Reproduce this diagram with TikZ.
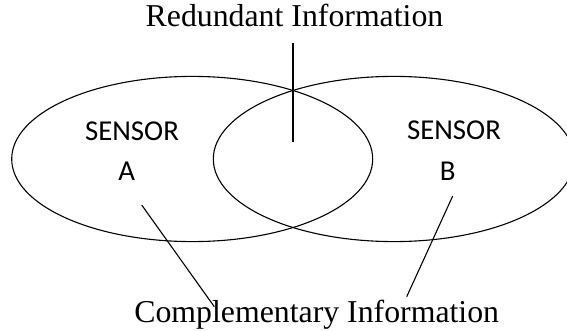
\documentclass[tikz,border=0pt]{standalone}
\usepackage{fontspec}
\setmainfont{Liberation Serif}
\newfontfamily\calfont{Carlito}
\usetikzlibrary{shapes.geometric}
\begin{document}
\begin{tikzpicture}[x=1pt,y=-1pt, line width=1.1pt,
  title/.style={font=\fontsize{31.8}{36}\selectfont, anchor=base, inner sep=0pt},
  sens/.style={font=\calfont\fontsize{28.8}{32}\selectfont, anchor=base, inner sep=0pt},
  set/.style={draw, ellipse, minimum width=361pt, minimum height=165.2pt, inner sep=0pt}]
\useasboundingbox (0,0) rectangle (567,331);
\clip (0,0) rectangle (567,331);
\node[set] (ea) at (192.2,159) {};
\node[set] (eb) at (393.8,159) {};
\node[title] (red) at (294.5,26.7) {Redundant Information};
\node[title] (comp) at (316.7,322.7) {Complementary Information};
\node[sens] (sa) at (132,140.7) {SENSOR};
\node[sens] (la) at (126.7,181) {A};
\node[sens] (sb) at (454,139.3) {SENSOR};
\node[sens] (lb) at (447.7,180) {B};
\coordinate (r1) at (293,42.7);
\coordinate (r2) at (293,142.3);
\coordinate (a1) at (141.7,205);
\coordinate (a2) at (214.3,306.7);
\coordinate (b1) at (452.7,196);
\coordinate (b2) at (406.7,296.7);
\draw (r1) -- (r2);
\draw (a1) -- (a2);
\draw (b1) -- (b2);
\end{tikzpicture}
\end{document}
